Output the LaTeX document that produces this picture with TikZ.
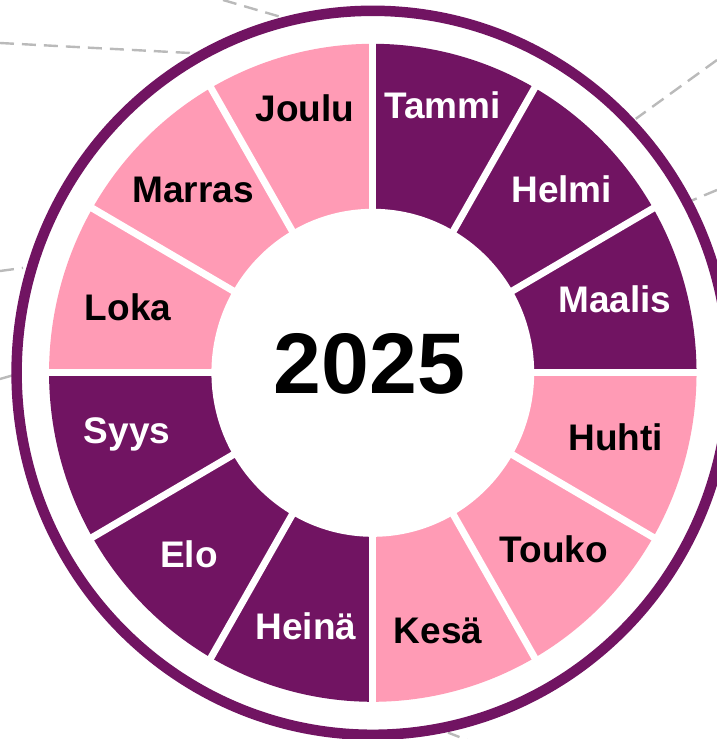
\documentclass[tikz,border=0pt]{standalone}
\usepackage{fontspec}
\setmainfont{Liberation Sans}
\definecolor{wheelplum}{RGB}{113,20,98}
\definecolor{wheelrose}{RGB}{255,155,181}

\begin{document}
\begin{tikzpicture}[x=1pt,y=1pt,
  guide/.style={draw=black!27, line width=2.4pt, dash pattern=on 14pt off 8pt},
  month/.style={font=\fontsize{37}{37}\selectfont\bfseries, anchor=base, inner sep=0pt}]
\useasboundingbox (-372.8,-366.2) rectangle (344.2,372.8);

\coordinate (g1) at (-372.8,329.8);
\coordinate (r1) at (-178.8,319.6);
\coordinate (g2) at (-149.8,372.8);
\coordinate (r2) at (-93.8,356.4);
\coordinate (g3) at (344.2,312.8);
\coordinate (r3) at (263.0,254.0);
\coordinate (g4) at (344.2,182.8);
\coordinate (r4) at (319.0,172.3);
\coordinate (g5) at (-372.8,101.8);
\coordinate (r5) at (-349.8,104.9);
\coordinate (g6) at (-372.8,-6.2);
\coordinate (r6) at (-354.8,-1.0);
\coordinate (g7) at (107.2,-372.2);
\coordinate (r7) at (75.2,-359.8);

\foreach \a/\b in {g1/r1,g2/r2,g3/r3,g4/r4,g5/r5,g6/r6,g7/r7}
\draw[guide] (\a)--(\b);

\begin{scope}[xscale=0.984]
\draw[wheelplum, line width=10.5pt, fill=white] (0,0) circle (362);
\foreach \ang/\col in {90/wheelplum,60/wheelplum,30/wheelplum,0/wheelrose,-30/wheelrose,-60/wheelrose,
  -90/wheelplum,-120/wheelplum,-150/wheelplum,-180/wheelrose,-210/wheelrose,-240/wheelrose}
\fill[\col] (0,0) -- (\ang:329) arc[start angle=\ang, delta angle=-30, radius=329] -- cycle;
\foreach \ang in {0,30,...,330}
\draw[white, line width=7pt] (0,0) -- (\ang:335);
\fill[white] (0,0) circle (164);
\end{scope}

\foreach \n/\m/\x/\y/\c in {tammi/Tammi/69.7/253.8/white, helmi/Helmi/188.9/169.8/white,
  maalis/Maalis/242.2/59.8/white, huhti/Huhti/243/-78/black, touko/Touko/181/-190/black,
  kesa/Kesä/65.2/-270.2/black, heina/Heinä/-66.8/-266.5/white, elo/Elo/-183.8/-194.2/white,
  syys/Syys/-245.8/-70.2/white, loka/Loka/-244.8/52.8/black, marras/Marras/-179.8/169.8/black,
  joulu/Joulu/-67.8/250.8/black}
\node[month, text=\c] (\n) at (\x,\y) {\m};

\node[font=\fontsize{86}{86}\selectfont\bfseries, anchor=base, inner sep=0pt] (year) at (-3.3,-20.2) {2025};

\end{tikzpicture}
\end{document}
